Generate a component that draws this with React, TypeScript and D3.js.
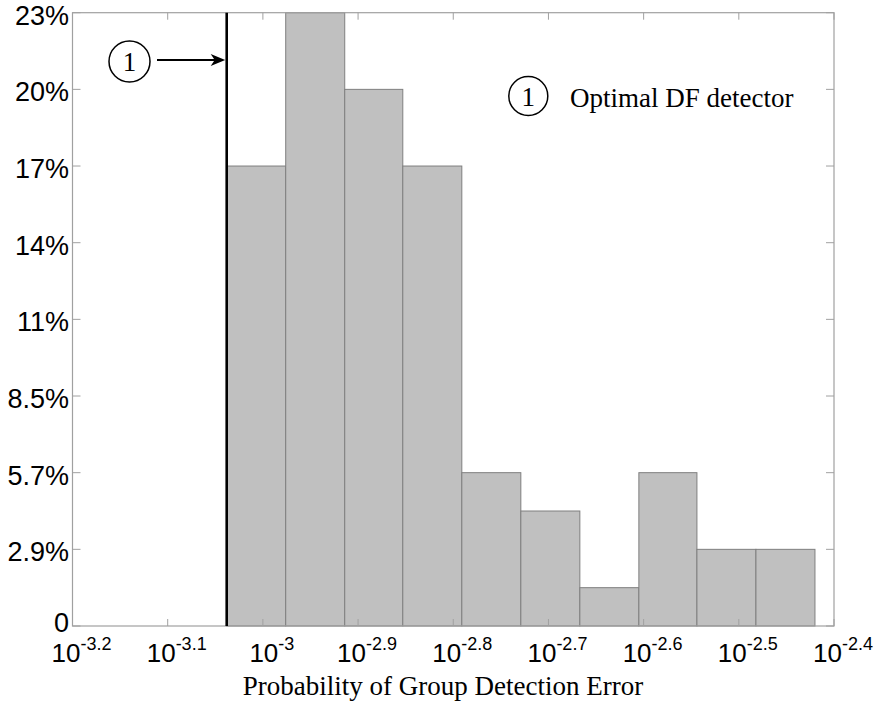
import React from "react";
import * as d3 from "d3";

// Histogram bin edges (log10 of error probability)
const binEdges = [-3.038, -2.976, -2.914, -2.853, -2.791, -2.729, -2.667, -2.605, -2.544, -2.482, -2.42];
// Fraction of trials in each bin
const binFractions = [12 / 70, 16 / 70, 14 / 70, 12 / 70, 4 / 70, 3 / 70, 1 / 70, 4 / 70, 2 / 70, 2 / 70];
// X tick exponents
const xTickExps = [-3.2, -3.1, -3, -2.9, -2.8, -2.7, -2.6, -2.5, -2.4];
const xTickLabels = ["-3.2", "-3.1", "-3", "-2.9", "-2.8", "-2.7", "-2.6", "-2.5", "-2.4"];
// Y ticks
const yTickValues = [0, 1 / 35, 2 / 35, 3 / 35, 4 / 35, 5 / 35, 6 / 35, 7 / 35, 8 / 35];
const yTickLabels = ["0", "2.9%", "5.7%", "8.5%", "11%", "14%", "17%", "20%", "23%"];
// Optimal DF detector marker (log10)
const optimalExp = -3.038;
const legendText = "Optimal DF detector";
const xTitle = "Probability of Group Detection Error";

export default function App() {
  const left = 72.5, right = 834, top = 12.7, bottom = 626;
  const x = d3.scaleLog().domain([Math.pow(10, -3.2), Math.pow(10, -2.4)]).range([left, right]);
  const y = d3.scaleLinear().domain([0, 8 / 35]).range([bottom, top]);
  const frame = "#a0a0a0";
  const sans = "Liberation Sans, Arial, sans-serif";
  const serif = "Liberation Serif, Times New Roman, serif";
  const lineX = x(Math.pow(10, optimalExp));
  const arrowY = 60;

  return (
    <svg width={878} height={704} style={{ position: "absolute", left: 0, top: 0, display: "block", background: "#fff" }}>
      {/* bars */}
      {binFractions.map((v, i) => {
        const x0 = x(Math.pow(10, binEdges[i]));
        const x1 = x(Math.pow(10, binEdges[i + 1]));
        return (
          <rect key={i} x={x0} y={y(v)} width={x1 - x0} height={y(0) - y(v)} fill="#c0c0c0" stroke="#7f7f7f" strokeWidth={1} />
        );
      })}
      {/* frame */}
      <rect x={left} y={top} width={right - left} height={bottom - top} fill="none" stroke={frame} strokeWidth={1.2} />
      {/* x ticks */}
      {xTickExps.map((e, i) => {
        const xp = x(Math.pow(10, e));
        return (
          <g key={i}>
            <line x1={xp} x2={xp} y1={bottom} y2={bottom - 7} stroke={frame} />
            <line x1={xp} x2={xp} y1={top} y2={top + 7} stroke={frame} />
            <text x={xp + 9} y={662} textAnchor="middle" fontFamily={sans} fontSize={26} fill="#000">
              10<tspan dy={-12} fontSize={18}>{xTickLabels[i]}</tspan>
            </text>
          </g>
        );
      })}
      {/* y ticks */}
      {yTickValues.map((v, i) => {
        const yp = y(v);
        return (
          <g key={i}>
            <line x1={left} x2={left + 8} y1={yp} y2={yp} stroke={frame} />
            <line x1={right} x2={right - 8} y1={yp} y2={yp} stroke={frame} />
            <text x={69} y={yp + (i === 0 ? 6 : 12)} textAnchor="end" fontFamily={sans} fontSize={27} fill="#000">
              {yTickLabels[i]}
            </text>
          </g>
        );
      })}
      {/* optimal detector line */}
      <line x1={lineX} x2={lineX} y1={top} y2={bottom} stroke="#000" strokeWidth={2.6} />
      {/* annotation circle + arrow */}
      <circle cx={129.5} cy={61.5} r={20.5} fill="#fff" stroke="#000" strokeWidth={1.5} />
      <text x={129.5} y={71} textAnchor="middle" fontFamily={serif} fontSize={27} fill="#000">1</text>
      <line x1={157} x2={lineX - 8} y1={arrowY} y2={arrowY} stroke="#000" strokeWidth={2} />
      <path d={`M${lineX - 1.5},${arrowY} L${lineX - 16},${arrowY - 6} L${lineX - 12},${arrowY} L${lineX - 16},${arrowY + 6} Z`} fill="#000" />
      {/* legend */}
      <circle cx={528.3} cy={96} r={19.5} fill="#fff" stroke="#000" strokeWidth={1.5} />
      <text x={528.3} y={105.5} textAnchor="middle" fontFamily={serif} fontSize={27} fill="#000">1</text>
      <text x={570} y={107} fontFamily={serif} fontSize={27} fill="#000">{legendText}</text>
      {/* x title */}
      <text x={443} y={695} textAnchor="middle" fontFamily={serif} fontSize={27} fill="#000">{xTitle}</text>
    </svg>
  );
}
